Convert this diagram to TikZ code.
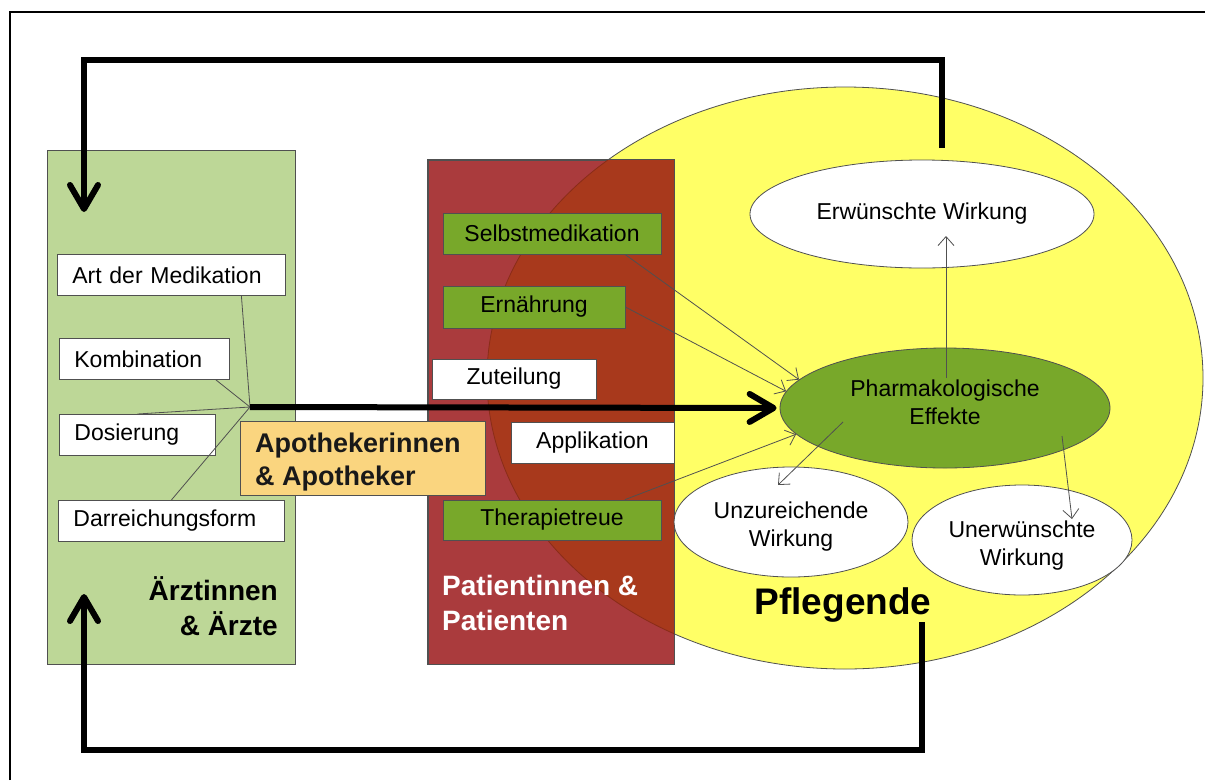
\documentclass[tikz,border=0pt]{standalone}
\usepackage{fontspec}
\setmainfont{Liberation Sans}
\usetikzlibrary{arrows.meta,calc,shapes.geometric}

\definecolor{docgreen}{HTML}{BDD797}
\definecolor{patred}{HTML}{AA3B3D}
\definecolor{patoverlap}{HTML}{A8391C}
\definecolor{overlapedge}{HTML}{8A2C18}
\definecolor{nurseyellow}{HTML}{FFFF66}
\definecolor{factorgreen}{HTML}{78A82A}
\definecolor{pharmorange}{HTML}{FAD57F}
\definecolor{edgegray}{HTML}{505050}

\begin{document}
\begin{tikzpicture}[x=1pt,y=-1pt,
  every node/.style={font=\fontsize{23}{28}\selectfont, inner sep=0pt},
  panel/.style={draw=edgegray, line width=0.8pt},
  whitebox/.style={draw=edgegray, line width=0.8pt, fill=white, minimum height=41pt},
  leftbox/.style={whitebox, anchor=north west, inner xsep=15pt, align=left, text width=#1},
  factorbox/.style={draw=edgegray, line width=0.8pt, fill=factorgreen},
  effect/.style={ellipse, draw=edgegray, line width=0.8pt, fill=white},
  efftext/.style={align=center},
  bigtitle/.style={font=\fontsize{28}{35}\selectfont\bfseries},
  feedback/.style={line width=6pt, -{Straight Barb[length=24pt,width=28pt,round]}},
  thinlink/.style={draw=edgegray, line width=0.8pt},
  thinarrow/.style={thinlink, -{Straight Barb[length=9pt,width=16pt]}}
]
\useasboundingbox (0,0) rectangle (1205,780);

% outer frame
\draw[line width=2pt] (10,780) -- (10,12) -- (1205,12);

% group panels
\node[panel, fill=docgreen, minimum width=248pt, minimum height=514pt] (doctors) at (171,407) {};
\node[ellipse, draw=edgegray, line width=0.8pt, fill=nurseyellow,
      minimum width=716pt, minimum height=582pt] (nurses) at (845,378) {};
\node[panel, fill=patred, minimum width=246pt, minimum height=504pt] (patients) at (551,412) {};

% part of the patient panel lying inside the nursing ellipse
\begin{scope}
  \clip (845,378) ellipse [x radius=358, y radius=291];
  \fill[patoverlap] (patients.north west) rectangle (patients.south east);
\end{scope}
\begin{scope}
  \clip (patients.north west) rectangle (patients.south east);
  \draw[overlapedge, line width=0.8pt] (845,378) ellipse [x radius=358, y radius=291];
\end{scope}
\draw[panel] (patients.north west) rectangle (patients.south east);

% feedback loops
\coordinate (fbTopStart) at (942,148);
\coordinate (fbTopCorner) at (942,60);
\coordinate (fbTopTip) at (84,212);
\draw[feedback] (fbTopStart) -- (fbTopCorner) -| (fbTopTip);

\coordinate (fbBotStart) at (922,622);
\coordinate (fbBotCorner) at (922,750);
\coordinate (fbBotTip) at (84,594);
\draw[feedback] (fbBotStart) -- (fbBotCorner) -| (fbBotTip);

% prescribing factors
\node[leftbox=198pt] (art)  at (57,254)  {Art der Medikation};
\node[leftbox=140pt] (komb) at (59,338)  {Kombination};
\node[leftbox=126pt] (dos)  at (59,414)  {Dosierung};
\node[leftbox=196pt] (darr) at (58,500)  {Darreichungsform};

% pharmacists
\node[draw=edgegray, line width=0.8pt, fill=pharmorange, anchor=north west,
      minimum width=245pt, minimum height=74pt] (pharmacists) at (240,421) {};
\node[anchor=west, align=left, font=\fontsize{27}{33}\selectfont\bfseries, text=black!90]
      (pharmtitle) at ([xshift=15pt,yshift=-4pt]pharmacists.west) {Apothekerinnen\\\& Apotheker};

% patient factors
\node[factorbox, minimum width=218pt, minimum height=41pt] (selbst) at (552,233.5) {Selbstmedikation};
\node[factorbox, minimum width=182pt, minimum height=42pt] (ernaehrung) at (534,307) {\raisebox{-2pt}{Ernährung}};
\node[whitebox, minimum width=164pt, minimum height=40pt] (zuteilung) at (514,379) {Zuteilung};
\node[whitebox, minimum width=163pt] (applikation) at (592.5,442.5) {Applikation};
\node[factorbox, minimum width=218pt, minimum height=40pt] (therapie) at (552,520) {\raisebox{-2pt}{Therapietreue}};

% effects
\node[effect, minimum width=344pt, minimum height=108pt] (wanted) at (922,214) {};
\node[effect, fill=factorgreen, minimum width=330pt, minimum height=120pt] (pharm) at (945,408) {};
\node[effect, minimum width=234pt, minimum height=110pt] (insuff) at (791,522) {};
\node[effect, minimum width=220pt, minimum height=110pt] (unwanted) at (1022,540) {};
\node[efftext] (wantedtext) at (wanted.center) {Erwünschte Wirkung};
\node[efftext] (pharmtext) at ([yshift=6pt]pharm.center) {Pharmakologische\\Effekte};
\node[efftext] (insufftext) at ([yshift=-5pt]insuff.center) {Unzureichende\\Wirkung};
\node[efftext] (unwantedtext) at ([yshift=-6pt]unwanted.center) {Unerwünschte\\Wirkung};

% prescribing factors meet in one point
\coordinate (hub) at (250,407);
\draw[thinlink] ([xshift=70pt]art.south) -- (hub);
\draw[thinlink] ([xshift=-14pt]komb.south east) -- (hub);
\draw[thinlink] (dos.north) -- (hub);
\draw[thinlink] (darr.north) -- (hub);

% main flow to the pharmacological effects
\draw[line width=6pt, -{Straight Barb[length=24pt,width=28pt,round]}] (hub) -- ([xshift=-3pt]pharm.west);

% patient factors acting on the effects
\draw[thinarrow] ([xshift=73pt]selbst.south) -- (pharm.169);
\draw[thinarrow] (ernaehrung.east) -- (pharm.174);
\draw[thinarrow] ([xshift=73pt]therapie.north) -- (pharm.190);

% outcomes
\draw[thinarrow] ([xshift=1pt,yshift=30pt]pharm.center) -- ([xshift=24pt,yshift=-22pt]wanted.center);
\draw[thinarrow] ([xshift=-102pt,yshift=-14pt]pharm.center) -- ([xshift=-13pt,yshift=37pt]insuff.center);
\draw[thinarrow] ([xshift=117pt,yshift=-28pt]pharm.center) -- ([xshift=50pt,yshift=21pt]unwanted.center);

% group titles
\node[bigtitle, align=right, anchor=east] (doclabel) at (278,606) {Ärztinnen\\\& Ärzte};
\node[bigtitle, align=left, anchor=west, text=white] (patlabel) at (442,603) {Patientinnen \&\\Patienten};
\node[font=\fontsize{37}{44}\selectfont\bfseries] (nurselabel) at (843,605) {Pflegende};
\end{tikzpicture}
\end{document}
